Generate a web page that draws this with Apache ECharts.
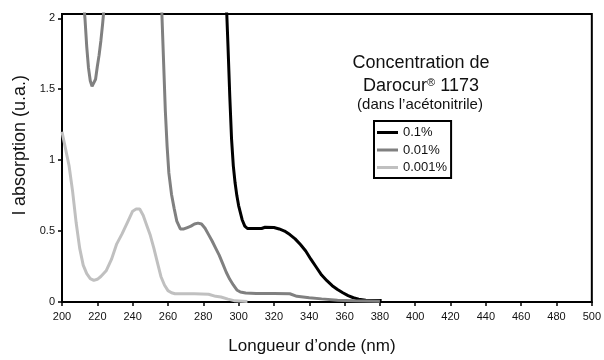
<!DOCTYPE html>
<html>
<head>
<meta charset="utf-8">
<script src="https://cdn.jsdelivr.net/npm/echarts@6/dist/echarts.min.js"></script>
<style>html,body{margin:0;padding:0;background:#fff}#c{width:604px;height:360px}</style>
</head>
<body>
<div id="c"></div>
<script>
// Wavelengths (nm) and absorbance (u.a.) per concentration
const wl01  = [290, 293.3, 294, 295, 296, 297, 298, 299, 300, 301, 302, 303.5, 305, 313, 315, 320, 323, 326, 329, 332, 335, 338, 341, 344, 347, 350, 353, 356, 359, 362, 365, 368, 372, 376, 381];
const abs01 = [2.4, 2.03, 1.8, 1.45, 1.15, 0.96, 0.84, 0.75, 0.68, 0.63, 0.58, 0.535, 0.518, 0.518, 0.527, 0.525, 0.515, 0.5, 0.475, 0.445, 0.405, 0.36, 0.3, 0.245, 0.19, 0.15, 0.115, 0.088, 0.065, 0.045, 0.03, 0.02, 0.013, 0.01, 0.01];

const wl001  = [211, 213, 214, 215, 216, 217, 218, 219, 220, 221, 222, 223, 224, 226, 254, 256.5, 257.5, 258.5, 259.5, 260.5, 262, 263.5, 265, 267, 269, 271, 273, 275, 277, 279, 281, 283, 285, 287, 289, 291, 293, 295, 297, 299, 301, 304, 310, 320, 329, 333, 340, 347, 356, 365, 380];
const abs001 = [2.3, 2.0, 1.8, 1.65, 1.56, 1.52, 1.52, 1.57, 1.66, 1.74, 1.84, 1.96, 2.1, 2.4, 2.4, 2.05, 1.7, 1.35, 1.1, 0.91, 0.76, 0.66, 0.57, 0.515, 0.515, 0.525, 0.535, 0.55, 0.556, 0.55, 0.52, 0.475, 0.43, 0.38, 0.33, 0.27, 0.21, 0.16, 0.12, 0.085, 0.07, 0.063, 0.06, 0.06, 0.058, 0.04, 0.03, 0.022, 0.012, 0.008, 0.006];

const wl0001  = [200, 202, 204, 206, 208, 210, 212, 214, 216, 218, 220, 222, 225, 228, 231, 234, 237, 240, 242, 244, 246, 248, 250, 252, 254, 256, 258, 260, 262, 264, 268, 275, 283, 287, 290, 294, 298, 305];
const abs0001 = [1.2, 1.08, 0.96, 0.78, 0.56, 0.38, 0.26, 0.2, 0.165, 0.152, 0.16, 0.18, 0.22, 0.30, 0.41, 0.48, 0.56, 0.64, 0.655, 0.655, 0.61, 0.54, 0.47, 0.38, 0.28, 0.18, 0.12, 0.08, 0.065, 0.058, 0.058, 0.058, 0.055, 0.04, 0.035, 0.02, 0.008, 0.004];

const seriesNames = ['0.1%', '0.01%', '0.001%'];
const yTicks = [0, 0.5, 1, 1.5, 2];

const pair = (xs, ys) => xs.map((x, i) => [x, ys[i]]);
const FONT = '"Liberation Sans", Arial, sans-serif';

const chart = echarts.init(document.getElementById('c'), null, {renderer: 'canvas'});
chart.setOption({
  animation: false,
  backgroundColor: '#fff',
  grid: {left: 62, right: 6, top: 14, bottom: 55, show: true, borderColor: '#000', borderWidth: 2, backgroundColor: 'transparent'},
  xAxis: {
    type: 'value', min: 200, max: 500, interval: 20,
    name: "Longueur d\u2019onde (nm)", nameLocation: 'middle', nameGap: 36,
    nameTextStyle: {fontFamily: FONT, fontSize: 17, color: '#111', padding: [0, 30, 0, 0]},
    axisLine: {show: true, lineStyle: {color: '#000', width: 2}},
    axisTick: {show: true, length: 4, lineStyle: {color: '#000', width: 1.5}},
    axisLabel: {fontFamily: FONT, fontSize: 11, color: '#111', margin: 9},
    splitLine: {show: false}
  },
  yAxis: {
    type: 'value', min: 0, max: 2.03,
    name: 'l absorption (u.a.)', nameLocation: 'middle', nameGap: 30,
    nameTextStyle: {fontFamily: FONT, fontSize: 18, color: '#111', padding: [0, 0, 0, 26]},
    axisLine: {show: true, lineStyle: {color: '#000', width: 2}},
    axisTick: {show: true, length: 4, customValues: yTicks, lineStyle: {color: '#000', width: 1.5}},
    axisLabel: {fontFamily: FONT, fontSize: 11, color: '#111', margin: 7, customValues: yTicks},
    splitLine: {show: false}
  },
  legend: {
    orient: 'vertical', left: 374, top: 121,
    data: seriesNames,
    icon: 'rect',
    borderColor: '#000', borderWidth: 2, borderRadius: 0,
    padding: [4, 4, 3, 3], itemGap: 2.5, itemWidth: 21, itemHeight: 3,
    textStyle: {fontFamily: FONT, fontSize: 13, lineHeight: 15, color: '#111'}
  },
  graphic: [
    {type: 'text', style: {x: 421, y: 63, text: 'Concentration de', font: '18px ' + FONT, fill: '#111', align: 'center', verticalAlign: 'middle'}},
    {type: 'text', style: {x: 421, y: 86, text: 'Darocur{s|\u00AE} 1173', rich: {s: {fontSize: 11, fontFamily: FONT, fill: '#111', verticalAlign: 'top', padding: [0, 0, 7, 0]}}, font: '18px ' + FONT, fill: '#111', align: 'center', verticalAlign: 'middle'}},
    {type: 'text', style: {x: 420, y: 105, text: '(dans l\u2019acétonitrile)', font: '15px ' + FONT, fill: '#111', align: 'center', verticalAlign: 'middle'}}
  ],
  series: [
    {name: seriesNames[0], type: 'line', data: pair(wl01, abs01), showSymbol: false, symbol: 'none', clip: true,
     lineStyle: {color: '#000', width: 3}, itemStyle: {color: '#000'}},
    {name: seriesNames[1], type: 'line', data: pair(wl001, abs001), showSymbol: false, symbol: 'none', clip: true,
     lineStyle: {color: '#808080', width: 3}, itemStyle: {color: '#808080'}},
    {name: seriesNames[2], type: 'line', data: pair(wl0001, abs0001), showSymbol: false, symbol: 'none', clip: true,
     lineStyle: {color: '#c0c0c0', width: 3}, itemStyle: {color: '#c0c0c0'}}
  ]
});
</script>
</body>
</html>
